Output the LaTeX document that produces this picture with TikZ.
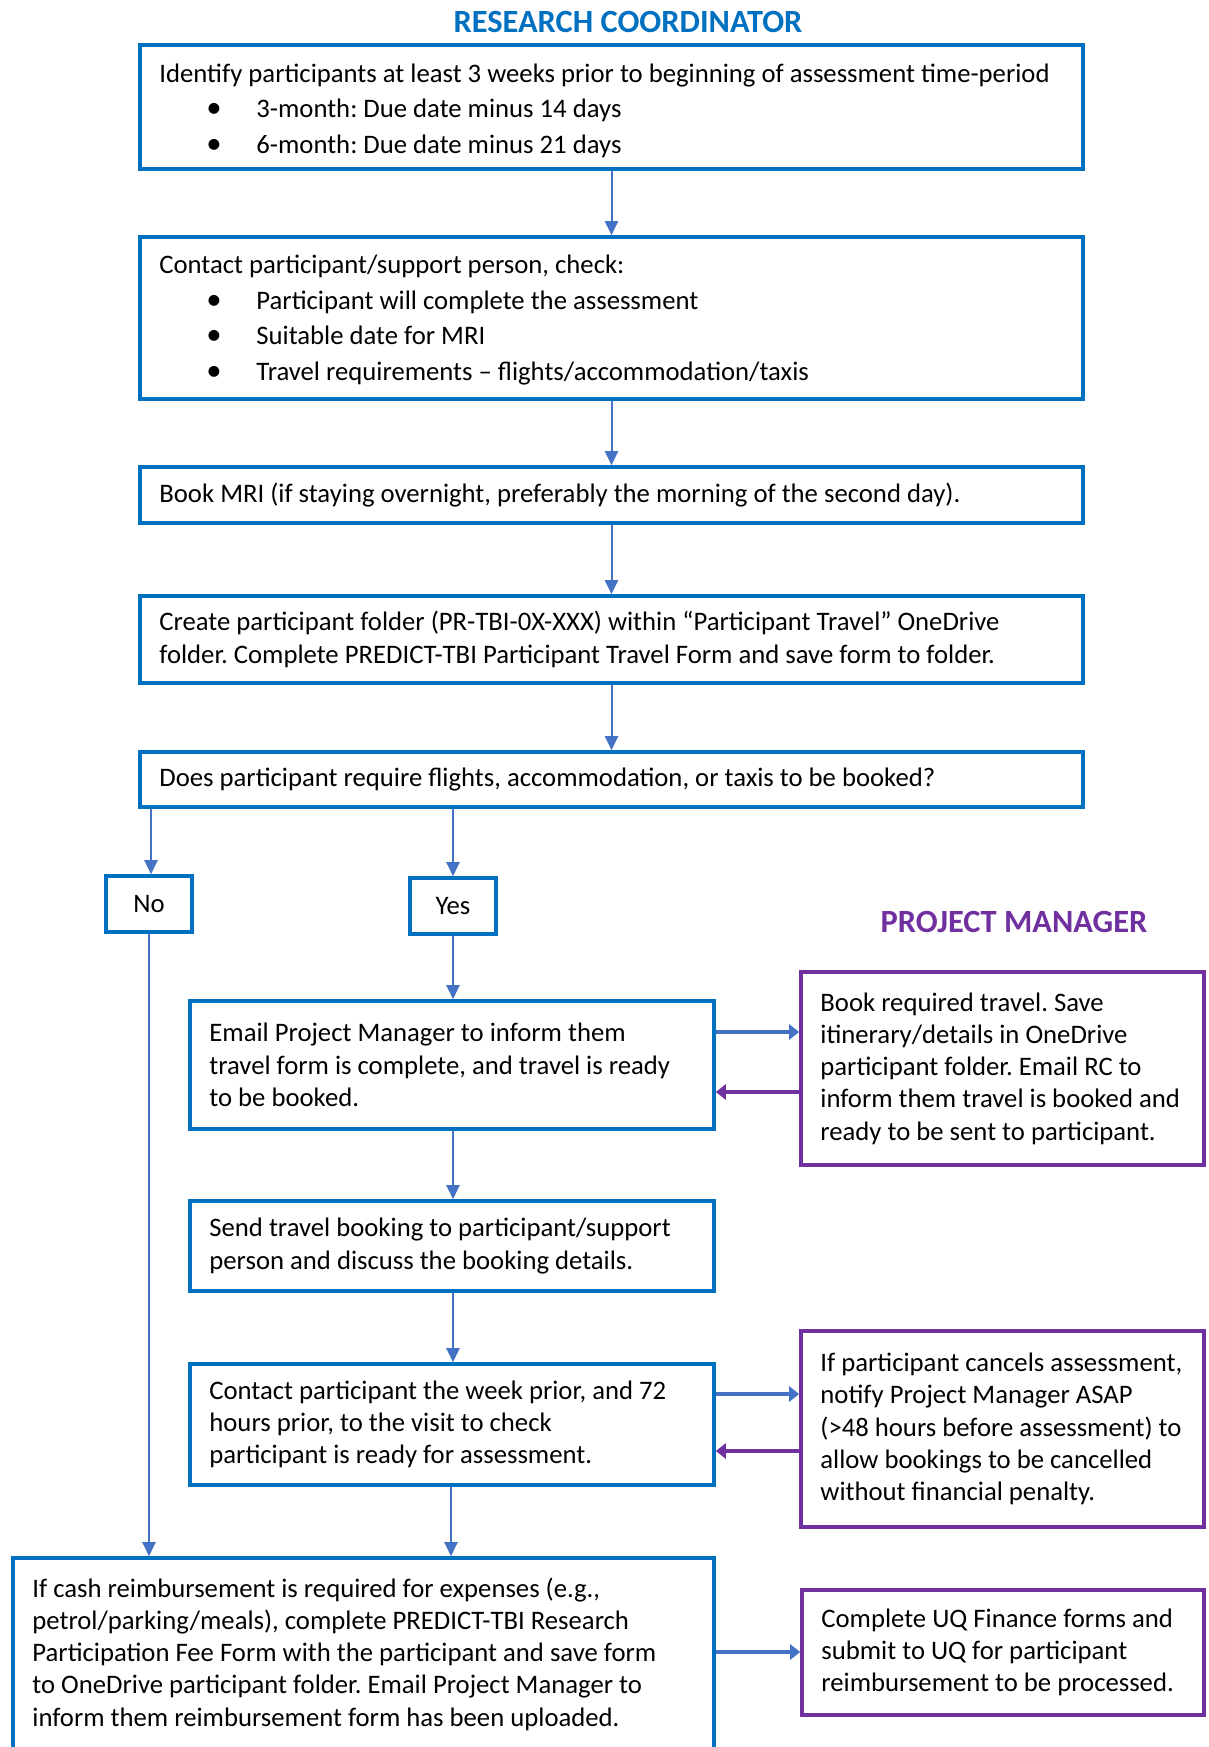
\documentclass[tikz,border=0pt]{standalone}
\usepackage{fontspec}
\setmainfont{Carlito}
\frenchspacing
\usetikzlibrary{arrows.meta,calc}
\definecolor{rcblue}{HTML}{0070C0}
\definecolor{arrblue}{HTML}{4472C4}
\definecolor{pmpurple}{HTML}{7030A0}
\newcommand\flowbox[8][]{%
  \pgfmathsetmacro\fbw{#6-#4}\pgfmathsetmacro\fbh{#7-#5}%
  \pgfmathsetmacro\fbx{(#4+#6)/2}\pgfmathsetmacro\fby{(#5+#7)/2}%
  \node[#2,minimum width=\fbw pt,minimum height=\fbh pt] (#3) at (\fbx,\fby) {};
  \node[boxtext,#1,anchor=west] (#3-t) at ([xshift=21pt]#3.west) {#8};}
\newcommand\blt{\makebox[97pt][l]{\hspace*{47pt}\scalebox{1.15}{\textbullet}}}
\tikzset{
  rcbox/.style={draw=rcblue,line width=3.6pt,inner sep=0pt},
  pmbox/.style={draw=pmpurple,line width=3.6pt,inner sep=0pt},
  boxtext/.style={align=left,inner sep=0pt,font=\fontsize{26.7pt}{32.3pt}\selectfont},
  bultext/.style={font=\fontsize{26.7pt}{35.5pt}\selectfont},
  varr/.style={draw=arrblue,line width=2pt,-{Triangle[length=14pt,width=13pt]}},
  harr/.style={draw=arrblue,line width=4pt,-{Triangle[length=10pt,width=15pt]}},
  parr/.style={draw=pmpurple,line width=4pt,-{Triangle[length=10pt,width=15pt]}},
  heading/.style={font=\fontsize{32.4pt}{36pt}\selectfont\bfseries,inner sep=0pt}
}
\begin{document}
\begin{tikzpicture}[x=1pt,y=-1pt]
\path[use as bounding box] (0,0) rectangle (1208,1747);
\clip (0,0) rectangle (1208,1747);
\node[heading,text=rcblue] (rc) at (628,22) {RESEARCH COORDINATOR};
\node[heading,text=pmpurple] (pm) at (1014,922) {PROJECT MANAGER};
\flowbox[bultext,yshift=-3.5pt]{rcbox}{b1}{140}{45}{1083}{169}{Identify participants at least 3 weeks prior to beginning of assessment time-period\\ \blt 3-month: Due date minus 14 days\\ \blt 6-month: Due date minus 21 days}
\flowbox[bultext,yshift=-2pt]{rcbox}{b2}{140}{237}{1083}{399}{Contact participant/support person, check:\\ \blt Participant will complete the assessment\\ \blt Suitable date for MRI\\ \blt Travel requirements -- flights/accommodation/taxis}
\flowbox{rcbox}{b3}{140}{467}{1083}{523}{Book MRI (if staying overnight, preferably the morning of the second day).}
\flowbox{rcbox}{b4}{140}{596}{1083}{683}{Create participant folder (PR-TBI-0X-XXX) within “Participant Travel” OneDrive\\ folder. Complete PREDICT-TBI Participant Travel Form and save form to folder.}
\flowbox{rcbox}{b5}{140}{752}{1083}{807}{Does participant require flights, accommodation, or taxis to be booked?}
\node[rcbox,minimum width=86pt,minimum height=56pt,font=\fontsize{26.7pt}{32pt}\selectfont] (no) at (149,904) {No};
\node[rcbox,minimum width=86pt,minimum height=56pt,font=\fontsize{26.7pt}{32pt}\selectfont] (yes) at (453,906) {Yes};
\flowbox{rcbox}{em}{190}{1001}{714}{1129}{Email Project Manager to inform them\\ travel form is complete, and travel is ready\\ to be booked.}
\flowbox{pmbox}{bk}{801}{972}{1204}{1165}{Book required travel. Save\\ itinerary/details in OneDrive\\ participant folder. Email RC to\\ inform them travel is booked and\\ ready to be sent to participant.}
\flowbox{rcbox}{sd}{190}{1201}{714}{1291}{Send travel booking to participant/support\\ person and discuss the booking details.}
\flowbox{rcbox}{ct}{190}{1364}{714}{1485}{Contact participant the week prior, and 72\\ hours prior, to the visit to check\\ participant is ready for assessment.}
\flowbox{pmbox}{cn}{801}{1331}{1204}{1527}{If participant cancels assessment,\\ notify Project Manager ASAP\\ (>48 hours before assessment) to\\ allow bookings to be cancelled\\ without financial penalty.}
\flowbox{rcbox}{fi}{13}{1558}{714}{1750}{If cash reimbursement is required for expenses (e.g.,\\ petrol/parking/meals), complete PREDICT-TBI Research\\ Participation Fee Form with the participant and save form\\ to OneDrive participant folder. Email Project Manager to\\ inform them reimbursement form has been uploaded.}
\flowbox{pmbox}{uq}{802}{1590}{1204}{1715}{Complete UQ Finance forms and\\ submit to UQ for participant\\ reimbursement to be processed.}
% connectors
\draw[varr] (b1.south) -- (b2.north);
\draw[varr] (b2.south) -- (b3.north);
\draw[varr] (b3.south) -- (b4.north);
\draw[varr] (b4.south) -- (b5.north);
\draw[varr] (b5.south -| 151,0) -- (151,0 |- no.north);
\draw[varr] (b5.south -| yes.north) -- (yes.north);
\draw[varr] (no.south) -- (no.south |- fi.north);
\draw[varr] (yes.south) -- (yes.south |- em.north);
\draw[varr] (em.south -| yes.south) -- (sd.north -| yes.south);
\draw[varr] (sd.south -| yes.south) -- (ct.north -| yes.south);
\draw[varr] (ct.south -| 451,0) -- (fi.north -| 451,0);
\draw[harr] (em.east |- 0,1032) -- (bk.west |- 0,1032);
\draw[parr] (bk.west |- 0,1092) -- (em.east |- 0,1092);
\draw[harr] (ct.east |- 0,1394) -- (cn.west |- 0,1394);
\draw[parr] (cn.west |- 0,1451) -- (ct.east |- 0,1451);
\draw[harr] (fi.east |- 0,1652) -- (uq.west |- 0,1652);
\end{tikzpicture}
\end{document}
